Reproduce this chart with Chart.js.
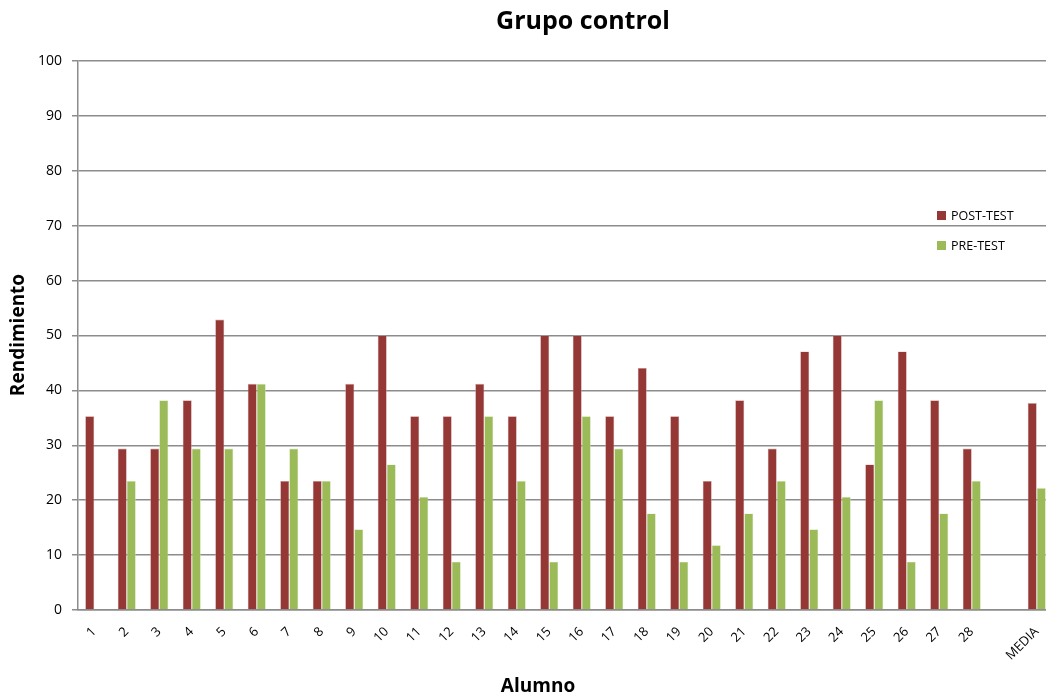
<!DOCTYPE html>
<html>
<head>
<meta charset="utf-8">
<script src="https://cdn.jsdelivr.net/npm/chart.js@4.4.1/dist/chart.umd.min.js"></script>
<style>
  html,body{margin:0;padding:0;background:#fff;overflow:hidden;}
  #wrap{width:1046px;height:699px;position:relative;overflow:hidden;}
  #c{display:block;}
</style>
</head>
<body>
<div id="wrap"><canvas id="c" width="1053" height="699"></canvas></div>
<script>
const categories = ['1','2','3','4','5','6','7','8','9','10','11','12','13','14','15','16','17','18','19','20','21','22','23','24','25','26','27','28','','MEDIA'];
const postTest = [35.3,29.4,29.4,38.2,52.9,41.2,23.5,23.5,41.2,50,35.3,35.3,41.2,35.3,50,50,35.3,44.1,35.3,23.5,38.2,29.4,47.1,50,26.5,47.1,38.2,29.4,null,37.7];
const preTest  = [0,23.5,38.2,29.4,29.4,41.2,29.4,23.5,14.7,26.5,20.6,8.8,35.3,23.5,8.8,35.3,29.4,17.6,8.8,11.8,17.6,23.5,14.7,20.6,38.2,8.8,17.6,23.5,null,22.2];
const yTicks = [0,10,20,30,40,50,60,70,80,90,100];
const seriesNames = ['POST-TEST','PRE-TEST'];
const titleText = 'Grupo control';
const xTitle = 'Alumno';
const yTitle = 'Rendimiento';

const FONT = '"Open Sans", sans-serif';

const overlay = {
  id: 'overlay',
  afterDraw(chart) {
    const ctx = chart.ctx;
    ctx.save();
    ctx.fillStyle = '#000';
    ctx.textAlign = 'center';
    ctx.textBaseline = 'middle';
    ctx.font = 'bold 25px ' + FONT;
    ctx.fillText(titleText, 583, 22);
    ctx.font = 'bold 19px ' + FONT;
    ctx.fillText(xTitle, 538, 687);
    ctx.translate(19, 335);
    ctx.rotate(-Math.PI / 2);
    ctx.fillText(yTitle, 0, 0);
    ctx.restore();

    // legend inside plot
    ctx.save();
    ctx.font = '12.5px ' + FONT;
    ctx.textAlign = 'left';
    ctx.textBaseline = 'middle';
    const ys = [215, 245];
    chart.data.datasets.forEach((ds, i) => {
      ctx.fillStyle = ds.backgroundColor;
      ctx.fillRect(937, ys[i] - 4, 9, 9);
      ctx.fillStyle = '#000';
      ctx.fillText(ds.label, 951, ys[i] + 1);
    });
    ctx.restore();
  }
};

new Chart(document.getElementById('c'), {
  type: 'bar',
  data: {
    labels: categories,
    datasets: [
      { label: seriesNames[0], data: postTest, backgroundColor: '#953735', borderColor: '#c9a3a2', borderWidth: 0.6 },
      { label: seriesNames[1], data: preTest, backgroundColor: '#9BBB59', borderColor: '#d6e4bd', borderWidth: 0.6 }
    ]
  },
  options: {
    responsive: false,
    animation: false,
    layout: { padding: { left: 0, right: 0, top: 61, bottom: 0 } },
    plugins: { legend: { display: false }, title: { display: false }, tooltip: { enabled: false } },
    datasets: { bar: { categoryPercentage: 0.555, barPercentage: 1.0 } },
    scales: {
      x: {
        grid: { display: false, drawTicks: false },
        border: { display: true, color: '#8c8c8c', width: 1.5 },
        ticks: { color: '#000', font: { family: FONT, size: 13 }, maxRotation: 45, minRotation: 45, autoSkip: false, padding: 14 },
        afterFit(s) { s.height = 89; s.paddingLeft = 0; s.paddingRight = 0; }
      },
      y: {
        min: 0, max: 100,
        afterBuildTicks(s) { s.ticks = yTicks.map(v => ({ value: v })); },
        grid: { color: '#8c8c8c', lineWidth: 1.5, tickLength: 6, drawTicks: true },
        border: { display: true, color: '#8c8c8c', width: 1.5 },
        ticks: { color: '#000', font: { family: FONT, size: 14 }, padding: 10 },
        afterFit(s) { s.width = 78; s.paddingTop = 0; s.paddingBottom = 0; }
      }
    }
  },
  plugins: [overlay]
});
</script>
</body>
</html>
